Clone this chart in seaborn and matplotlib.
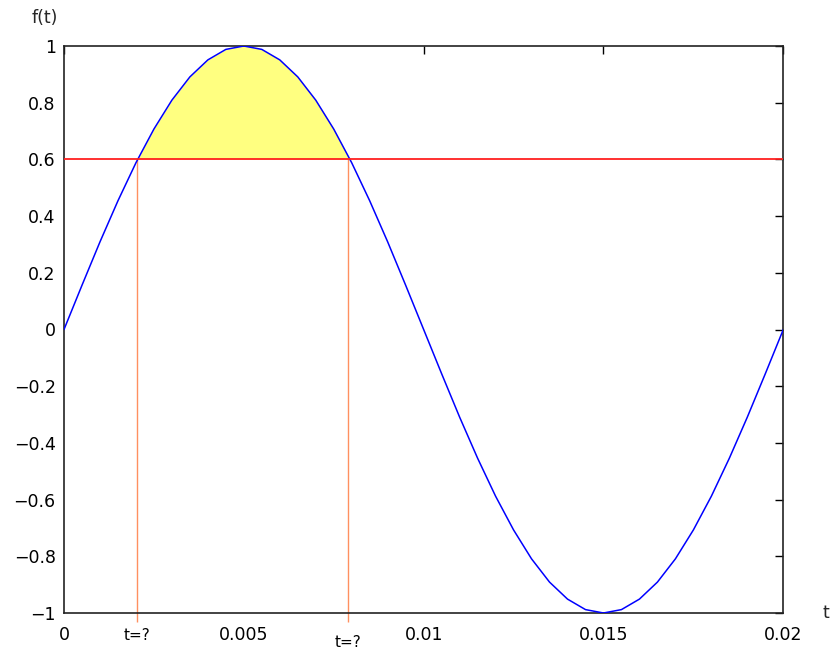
import numpy as np
import matplotlib
matplotlib.use("Agg")
import matplotlib.pyplot as plt
import seaborn as sns

# ---- data ----
t = [0.0000, 0.0005, 0.0010, 0.0015, 0.0020, 0.0025, 0.0030, 0.0035, 0.0040, 0.0045,
     0.0050, 0.0055, 0.0060, 0.0065, 0.0070, 0.0075, 0.0080, 0.0085, 0.0090, 0.0095,
     0.0100, 0.0105, 0.0110, 0.0115, 0.0120, 0.0125, 0.0130, 0.0135, 0.0140, 0.0145,
     0.0150, 0.0155, 0.0160, 0.0165, 0.0170, 0.0175, 0.0180, 0.0185, 0.0190, 0.0195,
     0.0200]
f = [0.000, 0.156, 0.309, 0.454, 0.588, 0.707, 0.809, 0.891, 0.951, 0.988,
     1.000, 0.988, 0.951, 0.891, 0.809, 0.707, 0.588, 0.454, 0.309, 0.156,
     0.000, -0.156, -0.309, -0.454, -0.588, -0.707, -0.809, -0.891, -0.951, -0.988,
     -1.000, -0.988, -0.951, -0.891, -0.809, -0.707, -0.588, -0.454, -0.309, -0.156,
     0.000]
level = 0.6
t_marks = [0.00202, 0.00789]
t_mark_labels = ["t=?", "t=?"]
xticks = [0, 0.005, 0.01, 0.015, 0.02]
xtick_labels = ["0", "0.005", "0.01", "0.015", "0.02"]
yticks = [-1, -0.8, -0.6, -0.4, -0.2, 0, 0.2, 0.4, 0.6, 0.8, 1]
ytick_labels = ["\u22121", "\u22120.8", "\u22120.6", "\u22120.4", "\u22120.2", "0",
                "0.2", "0.4", "0.6", "0.8", "1"]

sns.set_theme(style="white")
plt.rcParams["font.family"] = ["DejaVu Sans"]

fig = plt.figure(figsize=(8.3, 6.5), dpi=100)
ax = fig.add_axes([64 / 830, (650 - 613) / 650, (783.3 - 64) / 830, (613 - 46) / 650])

t_arr = np.array(t)
f_arr = np.array(f)
ax.fill_between(t_arr, f_arr, level, where=f_arr >= level, interpolate=True,
                color="#ffff80", linewidth=0, zorder=1)
sns.lineplot(x=t, y=f, ax=ax, color="#0000ff", linewidth=1.1, zorder=3)
ax.axhline(level, color="#ff2020", linewidth=1.3, zorder=4)
ax.vlines(t_marks, ymin=-1.032, ymax=level, colors="#ff9060", linewidth=1.0,
          clip_on=False, zorder=2)

ax.set_xlim(0, 0.02)
ax.set_ylim(-1, 1)
ax.set_xticks(xticks)
ax.set_xticklabels(xtick_labels)
ax.set_yticks(yticks)
ax.set_yticklabels(ytick_labels)
ax.tick_params(direction="in", length=6, width=1, color="black",
               top=True, right=True, labelsize=12.5, colors="black")
ax.tick_params(axis="x", pad=9)
ax.tick_params(axis="y", pad=6)
for s in ax.spines.values():
    s.set_color("#222222")
    s.set_linewidth(1.2)
    s.set_visible(True)

offsets = [-16, -21]
for xm, lab, off in zip(t_marks, t_mark_labels, offsets):
    ax.annotate(lab, xy=(xm, 0), xycoords=("data", "axes fraction"),
                xytext=(0, off), textcoords="offset points",
                ha="center", va="center", fontsize=11, color="black",
                annotation_clip=False)

fig.text(45 / 830, 1 - 18 / 650, "f(t)", ha="center", va="center", fontsize=12.5)
fig.text(822 / 830, 1 - 613 / 650, "t", ha="left", va="center", fontsize=12.5)

fig.savefig("out.png", dpi=100, facecolor="white")
